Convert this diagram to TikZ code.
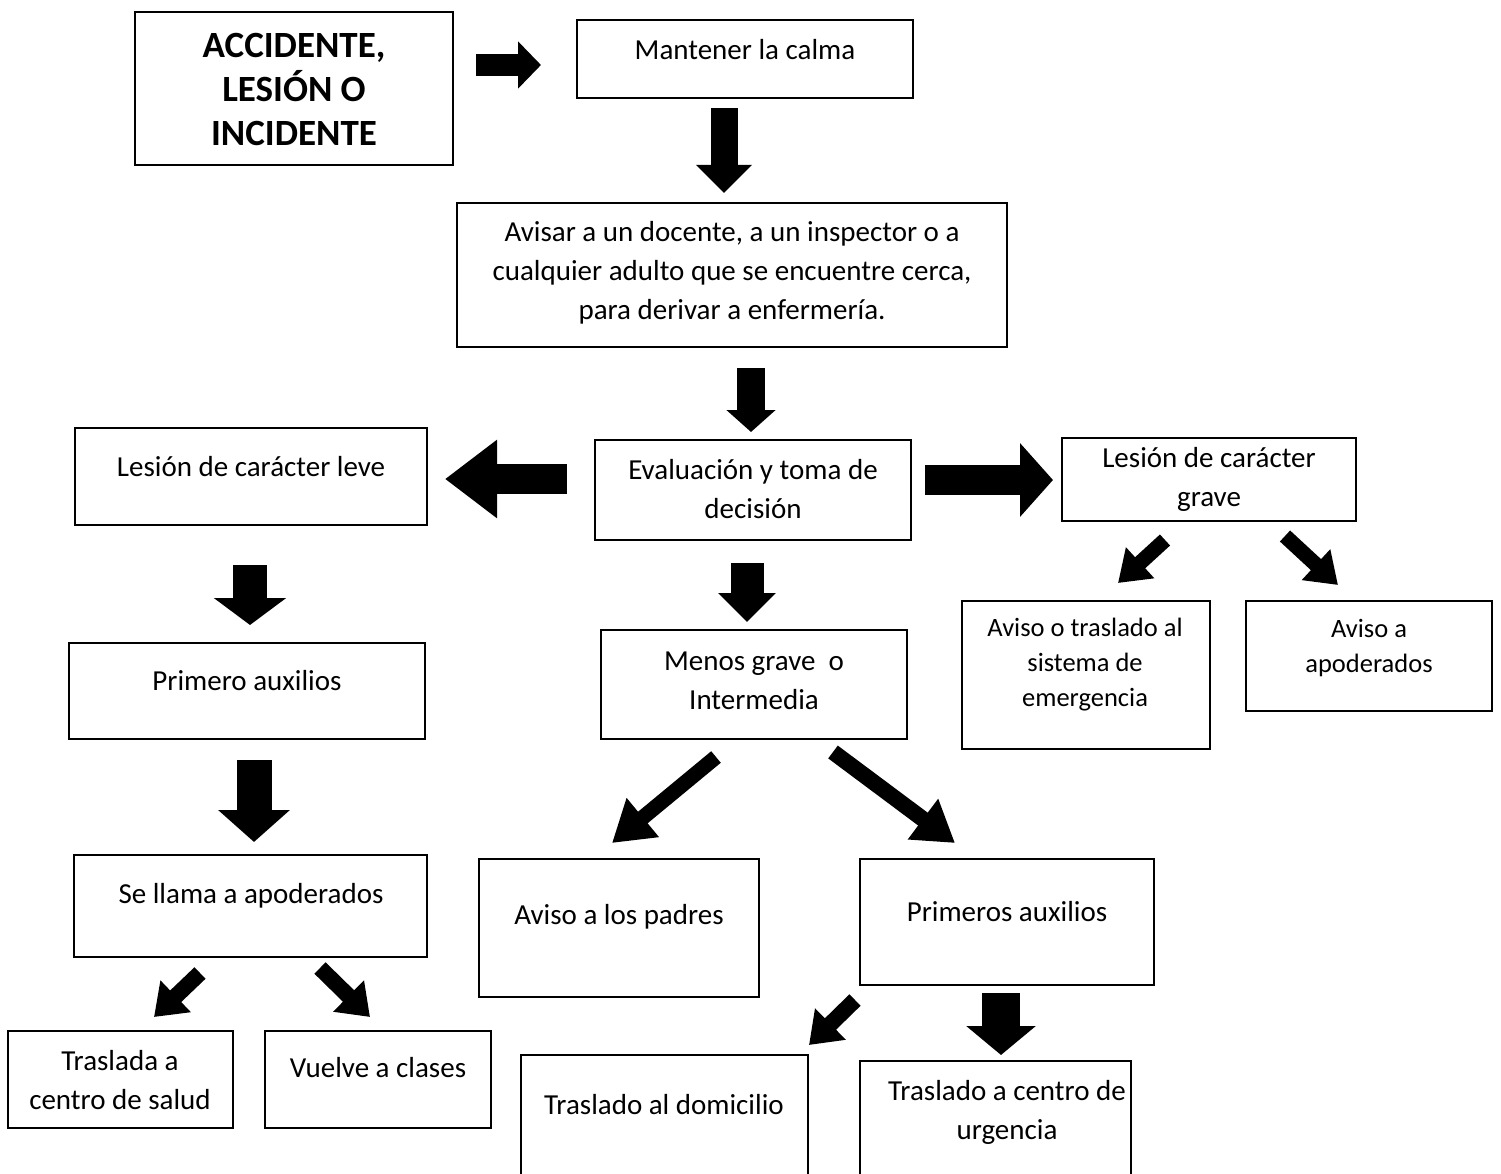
\documentclass[tikz,border=0pt]{standalone}
\usepackage{fontspec}
\setmainfont{Carlito}
\usetikzlibrary{arrows.meta}
\begin{document}
\begin{tikzpicture}[x=1pt,y=-1pt,
  box/.style={draw, line width=2.4pt, inner sep=0pt},
  txt/.style={align=center, inner sep=0pt, font=\fontsize{29}{39}\selectfont},
  smalltxt/.style={align=center, inner sep=0pt, font=\fontsize{26.5}{35}\selectfont},
  titletxt/.style={align=center, inner sep=0pt, font=\fontsize{37}{44}\selectfont\bfseries},
  blk/.style n args={3}{line width=#1pt, -{Triangle[length=#2pt,width=#3pt]}}]
\useasboundingbox (0,0) rectangle (1501,1174);
\fill[white] (0,0) rectangle (1501,1174);
% boxes
\node[box, minimum width=318pt, minimum height=153pt] (acc) at (294,88.5) {};
\node[box, minimum width=336pt, minimum height=78pt] (calm) at (745,59) {};
\node[box, minimum width=550pt, minimum height=144pt] (avis) at (732,275) {};
\node[box, minimum width=352pt, minimum height=97pt] (leve) at (251,476.5) {};
\node[box, minimum width=316pt, minimum height=100pt] (eval) at (753,490) {};
\node[box, minimum width=294pt, minimum height=83pt] (grave) at (1209,479.5) {};
\node[box, minimum width=356pt, minimum height=96pt] (prim) at (247,691) {};
\node[box, minimum width=306pt, minimum height=109pt] (menos) at (754,684.5) {};
\node[box, minimum width=248pt, minimum height=148pt] (emer) at (1086,675) {};
\node[box, minimum width=246pt, minimum height=110pt] (apod) at (1369,656) {};
\node[box, minimum width=353pt, minimum height=102pt] (llama) at (250.5,906) {};
\node[box, minimum width=280pt, minimum height=138pt] (padres) at (619,928) {};
\node[box, minimum width=294pt, minimum height=126pt] (primeros) at (1007,922) {};
\node[box, minimum width=225pt, minimum height=97pt] (salud) at (120.5,1079.5) {};
\node[box, minimum width=226pt, minimum height=97pt] (clases) at (378,1079.5) {};
\node[box, minimum width=287pt, minimum height=145pt] (domic) at (664.5,1127.5) {};
\node[box, minimum width=271pt, minimum height=139pt] (urg) at (995.5,1130.5) {};
% texts
\node[titletxt] (tacc) at (294,89) {ACCIDENTE,\\LESIÓN O\\INCIDENTE};
\node[txt] (tcalm) at (745,50) {Mantener la calma};
\node[txt] (tavis) at (732,273) {Avisar a un docente, a un inspector o a\\cualquier adulto que se encuentre cerca,\\para derivar a enfermería.};
\node[txt] (tleve) at (251,467) {Lesión de carácter leve};
\node[txt] (teval) at (753,489) {Evaluación y toma de\\decisión};
\node[txt] (tgrave) at (1209,479) {Lesión de carácter\\grave};
\node[txt] (tprim) at (247,681) {Primero auxilios};
\node[txt] (tmenos) at (754,681) {Menos grave~ o\\Intermedia};
\node[smalltxt] (temer) at (1085,665) {Aviso o traslado al\\sistema de\\emergencia};
\node[smalltxt] (tapod) at (1369,648) {Aviso a\\apoderados};
\node[txt] (tllama) at (251,896) {Se llama a apoderados};
\node[txt] (tpadres) at (619,917) {Aviso a los padres};
\node[txt] (tprimeros) at (1007,912) {Primeros auxilios};
\node[txt] (tsalud) at (120,1080) {Traslada a\\centro de salud};
\node[txt] (tclases) at (378,1068) {Vuelve a clases};
\node[txt] (tdomic) at (664,1105) {Traslado al domicilio};
\node[txt] (turg) at (1007,1112) {Traslado a centro de\\urgencia};
% arrow end points
\coordinate (a1) at (476,65);   \coordinate (a2) at (541,65);
\coordinate (b1) at (724,108);  \coordinate (b2) at (724,193);
\coordinate (c1) at (751,368);  \coordinate (c2) at (751,432);
\coordinate (d1) at (567,479);  \coordinate (d2) at (445,479);
\coordinate (e1) at (925,480);  \coordinate (e2) at (1053,480);
\coordinate (f1) at (747,563);  \coordinate (f2) at (747,622);
\coordinate (g1) at (250,565);  \coordinate (g2) at (250,625);
\coordinate (h1) at (254,760);  \coordinate (h2) at (254,842);
\coordinate (p1) at (1001,993); \coordinate (p2) at (1001,1055);
\coordinate (i1) at (716,757);  \coordinate (i2) at (612,843);
\coordinate (j1) at (833,752);  \coordinate (j2) at (955,843);
\coordinate (k1) at (1165,540); \coordinate (k2) at (1118,583);
\coordinate (l1) at (1285,536); \coordinate (l2) at (1338,585);
\coordinate (m1) at (200,973);  \coordinate (m2) at (154,1017);
\coordinate (n1) at (320,968);  \coordinate (n2) at (370,1017);
\coordinate (o1) at (855,1000); \coordinate (o2) at (809,1045);
% block arrows
\draw[blk={22}{23}{46}] (a1) -- (a2);
\draw[blk={27}{28}{54}] (b1) -- (b2);
\draw[blk={28}{22}{48}] (c1) -- (c2);
\draw[blk={30}{52}{75}] (d1) -- (d2);
\draw[blk={30}{33}{72}] (e1) -- (e2);
\draw[blk={33}{29}{56}] (f1) -- (f2);
\draw[blk={34}{27}{71}] (g1) -- (g2);
\draw[blk={35}{32}{70}] (h1) -- (h2);
\draw[blk={38}{29}{68}] (p1) -- (p2);
\draw[blk={15}{40}{48}] (i1) -- (i2);
\draw[blk={16}{40}{48}] (j1) -- (j2);
\draw[blk={15}{30}{40}] (k1) -- (k2);
\draw[blk={15}{30}{40}] (l1) -- (l2);
\draw[blk={16}{30}{42}] (m1) -- (m2);
\draw[blk={16}{30}{42}] (n1) -- (n2);
\draw[blk={16}{30}{42}] (o1) -- (o2);
\end{tikzpicture}
\end{document}
